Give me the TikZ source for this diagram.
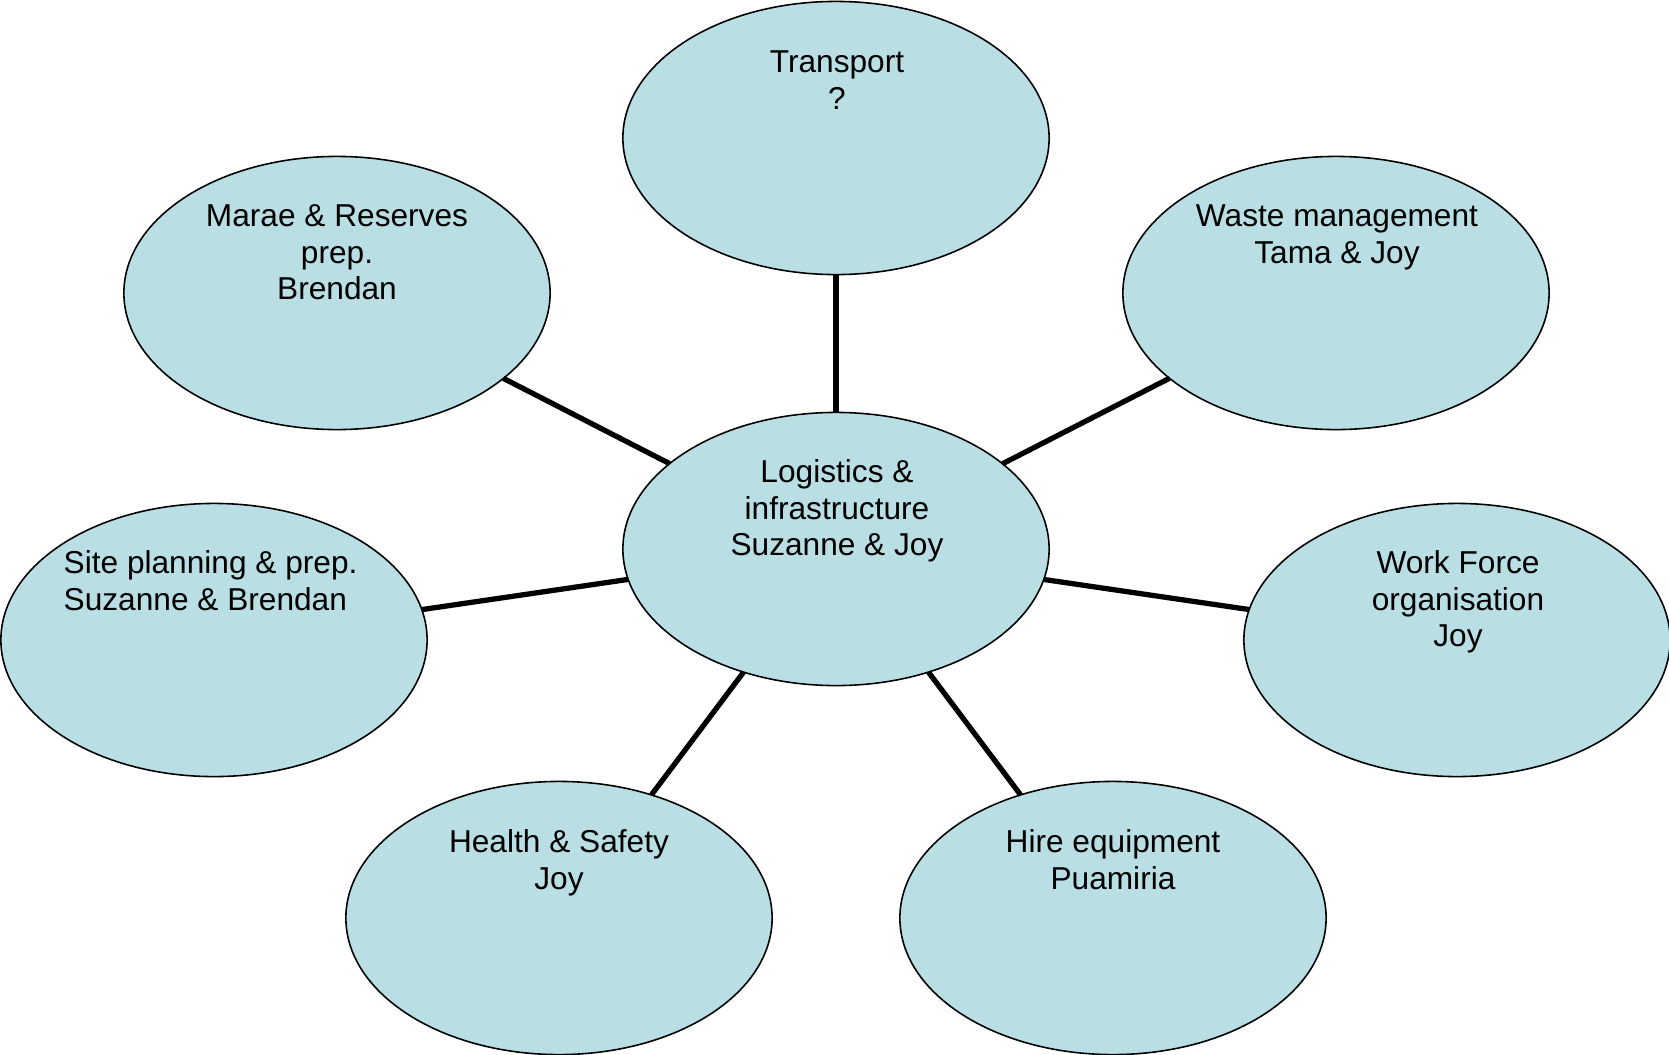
\documentclass[tikz,border=0pt]{standalone}
\usepackage{fontspec}
\setmainfont{Liberation Sans}
\usetikzlibrary{shapes.geometric}
\definecolor{bubblefill}{RGB}{185,223,228}
\tikzset{
  bubble/.style={ellipse, draw=black, line width=0.45pt, fill=bubblefill,
    minimum width=4.26cm, minimum height=2.73cm, inner sep=0pt, outer sep=0pt},
  btext/.style={anchor=north, inner sep=0pt, align=center,
    font=\fontsize{9pt}{10.4pt}\selectfont},
  ltext/.style={anchor=north west, inner sep=0pt, align=left,
    font=\fontsize{9pt}{10.4pt}\selectfont},
  link/.style={line width=1.5pt, draw=black}
}
\begin{document}
\begin{tikzpicture}[x=0.01cm, y=-0.01cm]
\useasboundingbox (0,0) rectangle (1669,1054);
% ellipses
\node[bubble] (center) at (836,549) {};
\node[bubble] (transport) at (836,138) {};
\node[bubble] (marae) at (337,293) {};
\node[bubble] (waste) at (1336,293) {};
\node[bubble] (site) at (214,640) {};
\node[bubble] (work) at (1457,640) {};
\node[bubble] (health) at (559,918) {};
\node[bubble] (hire) at (1113,918) {};
% connectors
\draw[link] (center) -- (transport);
\draw[link] (center) -- (marae);
\draw[link] (center) -- (waste);
\draw[link] (center) -- (site);
\draw[link] (center) -- (work);
\draw[link] (center) -- (health);
\draw[link] (center) -- (hire);
% texts
\node[btext] (center-t) at (837,456.4) {\strut Logistics \&\\infrastructure\\Suzanne \& Joy};
\node[btext] (transport-t) at (837,46.4) {\strut Transport\\?};
\node[btext] (marae-t) at (337,200.4) {\strut Marae \& Reserves\\prep.\\Brendan};
\node[btext] (waste-t) at (1337,200.4) {\strut Waste management\\Tama \& Joy};
\node[ltext] (site-t) at (63,547.4) {\strut Site planning \& prep.\\Suzanne \& Brendan};
\node[btext] (work-t) at (1458,547.4) {\strut Work Force\\organisation\\Joy};
\node[btext] (health-t) at (559,826.4) {\strut Health \& Safety\\Joy};
\node[btext] (hire-t) at (1113,826.4) {\strut Hire equipment\\Puamiria};
\end{tikzpicture}
\end{document}
